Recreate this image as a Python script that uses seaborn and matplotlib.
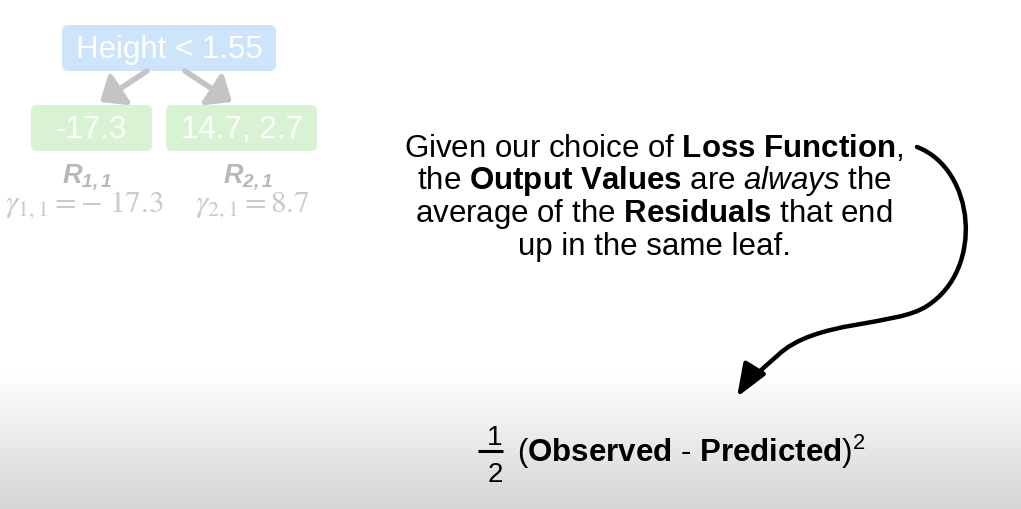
import numpy as np
import matplotlib
matplotlib.use("Agg")
import matplotlib.pyplot as plt
import seaborn as sns
from matplotlib.patches import FancyBboxPatch, FancyArrowPatch
from matplotlib.path import Path

# slide content
ROOT_LABEL = "Height < 1.55"
LEAF_RESIDUALS = [["-17.3"], ["14.7", "2.7"]]
LEAF_NAMES = [r"$\mathbfit{R_{1,1}}$", r"$\mathbfit{R_{2,1}}$"]
GAMMA_LABELS = [r"$\gamma_{1,1} = -\ 17.3$", r"$\gamma_{2,1} = 8.7$"]
TEXT_LINES = [
    r"Given our choice of $\mathbf{Loss\ Function}$,",
    r"the $\mathbf{Output\ Values}$ are $\mathit{always}$ the",
    r"average of the $\mathbf{Residuals}$ that end",
    r"up in the same leaf.",
]
FORMULA = r"($\mathbf{Observed}$ - $\mathbf{Predicted}$)$^{2}$"

sns.set_theme(style="white")
plt.rcParams["font.family"] = ["Liberation Sans", "DejaVu Sans"]
plt.rcParams["text.color"] = "black"
plt.rcParams["mathtext.fontset"] = "custom"
plt.rcParams["mathtext.rm"] = "Liberation Sans"
plt.rcParams["mathtext.bf"] = "Liberation Sans:bold"
plt.rcParams["mathtext.it"] = "Liberation Sans:italic"
plt.rcParams["mathtext.bfit"] = "Liberation Sans:italic:bold"

ROOT_COLOR = "#cde4fa"
LEAF_COLOR = "#d9f2d3"
FADED_ARROW = "#c4c4c4"

fig = plt.figure(figsize=(10.21, 5.10), dpi=100)
ax = fig.add_axes([0, 0, 1, 1])
ax.set_xlim(0, 1021)
ax.set_ylim(510, 0)
ax.axis("off")

# grey fade at the bottom of the slide
grad = np.linspace(1.0, 0.835, 200).reshape(-1, 1)
ax.imshow(np.dstack([grad, grad, grad]), extent=[0, 1021, 510, 375],
          aspect="auto", zorder=0, interpolation="bicubic")

# tree (faded)
root = FancyBboxPatch((62, 26), 214, 46, boxstyle="round,pad=0,rounding_size=6",
                      fc=ROOT_COLOR, ec="none", zorder=2)
ax.add_patch(root)
ax.text(169, 50, ROOT_LABEL, color="white", fontsize=22.5, ha="center", va="center", zorder=3)

leaf_boxes = [(31, 106, 121, 46), (166, 106, 151, 46)]
for (x, y, w, h), res in zip(leaf_boxes, LEAF_RESIDUALS):
    ax.add_patch(FancyBboxPatch((x, y), w, h, boxstyle="round,pad=0,rounding_size=6",
                                fc=LEAF_COLOR, ec="none", zorder=2))
    ax.text(x + w / 2, y + h / 2 + 1, ", ".join(res), color="white", fontsize=22.5,
            ha="center", va="center", zorder=3)

for start, end in [((147, 72), (100, 103)), ((185, 72), (232, 103))]:
    ax.add_patch(FancyArrowPatch(start, end, arrowstyle="-|>,head_length=0.6,head_width=0.5",
                                 mutation_scale=22, lw=4, color=FADED_ARROW,
                                 shrinkA=0, shrinkB=0, zorder=2))

for xc, name in zip([87, 248], LEAF_NAMES):
    ax.text(xc, 183, name, color="#b8b8b8", fontsize=19.5, ha="center", va="baseline")

for xc, g in zip([84, 252], GAMMA_LABELS):
    ax.text(xc, 212, g, color="#cacaca", fontsize=22.5, ha="center", va="baseline",
            math_fontfamily="stix")

# explanation text
for i, line in enumerate(TEXT_LINES):
    ax.text(654, 157 + i * 32.5, line, fontsize=22.5, ha="center", va="baseline")

# curved arrow
verts = [(917, 148),
         (975, 170), (985, 270), (927, 307),
         (895, 328), (815, 320), (777, 357),
         (760, 372), (745, 385), (737, 398)]
codes = [Path.MOVETO] + [Path.CURVE4] * 9
ax.add_patch(FancyArrowPatch(path=Path(verts, codes),
                             arrowstyle="-|>,head_length=0.9,head_width=0.35",
                             mutation_scale=22, lw=3.2, color="black",
                             shrinkA=0, shrinkB=0, zorder=4))

# loss function
ax.text(495, 445, "1", fontsize=20, ha="center", va="baseline")
ax.plot([478, 503], [452, 452], color="black", lw=2.2, solid_capstyle="butt")
ax.text(495, 482, "2", fontsize=20, ha="center", va="baseline")
ax.text(517, 462, FORMULA, fontsize=22.5, ha="left", va="baseline")

fig.savefig("out.png", dpi=100)
